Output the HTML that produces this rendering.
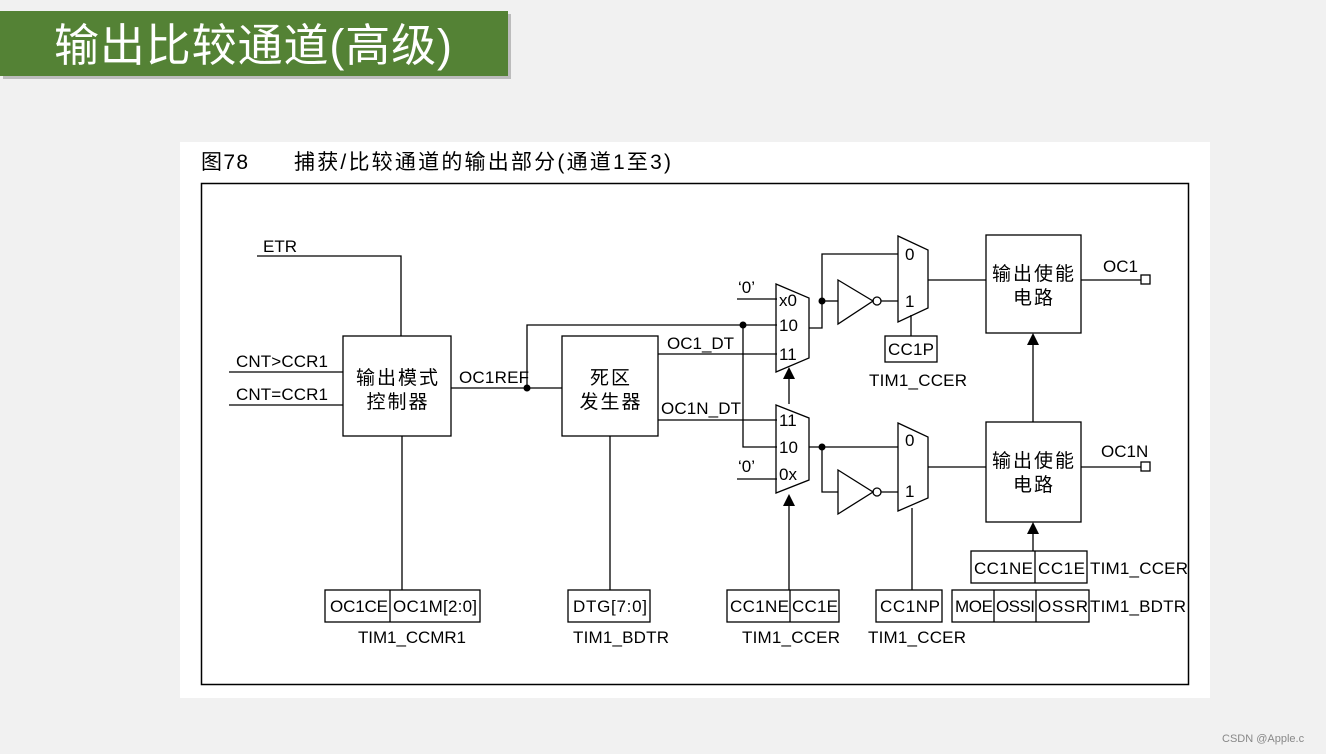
<!DOCTYPE html>
<html><head><meta charset="utf-8"><style>
html,body{margin:0;padding:0;background:#f1f1f1;}
svg{display:block}
</style></head><body>
<svg width="1326" height="754" viewBox="0 0 1326 754" xmlns="http://www.w3.org/2000/svg" font-family="'Liberation Sans','Noto Sans CJK SC',sans-serif">
<rect x="0" y="0" width="1326" height="754" fill="#f1f1f1"/>
<rect x="3" y="14" width="508" height="65" fill="#9a9a9a" opacity="0.6"/>
<rect x="0" y="11" width="508" height="65" fill="#548235"/>
<text x="54" y="61" font-size="45" fill="#fff" textLength="398">输出比较通道(高级)</text>
<rect x="180" y="142" width="1030" height="556" fill="#fff"/>
<text x="201" y="169" font-size="21" fill="#000" textLength="47">图78</text>
<text x="294" y="169" font-size="21" fill="#000" textLength="377">捕获/比较通道的输出部分(通道1至3)</text>
<rect x="201.5" y="183.5" width="987" height="501" fill="none" stroke="#000" stroke-width="1.5"/>
<g stroke="#000" stroke-width="1.3" fill="none">
<polyline points="257,256 401,256 401,336"/>
<line x1="229" y1="372" x2="343" y2="372"/>
<line x1="229" y1="405" x2="343" y2="405"/>
<rect x="343" y="336" width="108" height="100"/>
<line x1="451" y1="388" x2="562" y2="388"/>
<polyline points="527,388 527,325 777,325"/>
<rect x="562" y="336" width="96" height="100"/>
<line x1="658" y1="354" x2="777" y2="354"/>
<line x1="658" y1="420" x2="777" y2="420"/>
<polyline points="743,325 743,447 777,447"/>
<line x1="737" y1="299" x2="777" y2="299"/>
<line x1="737" y1="479" x2="777" y2="479"/>
<polygon points="776,284 809,298 809,358 776,372"/>
<polygon points="776,405 809,418 809,480 776,493"/>
<line x1="789" y1="404" x2="789" y2="378"/>
<line x1="789" y1="590" x2="789" y2="505"/>
<polyline points="809,328 822,328 822,254 898,254"/>
<line x1="822" y1="301" x2="838" y2="301"/>
<polygon points="838,280 873,301 838,324"/>
<circle cx="877" cy="301" r="4"/>
<line x1="881" y1="301" x2="898" y2="301"/>
<polygon points="898,236 928,250 928,308 898,322"/>
<line x1="928" y1="280" x2="986" y2="280"/>
<rect x="885" y="336" width="52" height="26"/>
<line x1="911" y1="336" x2="911" y2="315"/>
<rect x="986" y="235" width="95" height="98"/>
<line x1="1081" y1="280" x2="1141" y2="280"/>
<rect x="1141" y="275" width="9" height="9"/>
<line x1="809" y1="447" x2="898" y2="447"/>
<polyline points="822,447 822,492 838,492"/>
<polygon points="838,470 873,492 838,514"/>
<circle cx="877" cy="492" r="4"/>
<line x1="881" y1="492" x2="898" y2="492"/>
<polygon points="898,423 928,437 928,498 898,511"/>
<line x1="928" y1="467" x2="986" y2="467"/>
<rect x="986" y="422" width="95" height="100"/>
<line x1="1081" y1="467" x2="1141" y2="467"/>
<rect x="1141" y="462" width="9" height="9"/>
<line x1="1033" y1="422" x2="1033" y2="345"/>
<line x1="1033" y1="551" x2="1033" y2="534"/>
<rect x="971" y="551" width="116" height="32"/>
<line x1="1035" y1="551" x2="1035" y2="583"/>
<rect x="952" y="590" width="137" height="32"/>
<line x1="994" y1="590" x2="994" y2="622"/>
<line x1="1036" y1="590" x2="1036" y2="622"/>
<rect x="876" y="590" width="66" height="32"/>
<line x1="912" y1="590" x2="912" y2="508"/>
<rect x="727" y="590" width="112" height="32"/>
<line x1="790" y1="590" x2="790" y2="622"/>
<rect x="568" y="590" width="82" height="32"/>
<line x1="610" y1="590" x2="610" y2="436"/>
<rect x="325" y="590" width="155" height="32"/>
<line x1="390" y1="590" x2="390" y2="622"/>
<line x1="402" y1="590" x2="402" y2="436"/>
</g>
<g fill="#000">
<circle cx="527" cy="388" r="3.5"/>
<circle cx="743" cy="325" r="3.5"/>
<circle cx="822" cy="301" r="3.5"/>
<circle cx="822" cy="447" r="3.5"/>
<polygon points="789,367 783,379 795,379"/>
<polygon points="789,494 783,506 795,506"/>
<polygon points="1033,333 1027,345 1039,345"/>
<polygon points="1033,522 1027,534 1039,534"/>
</g>
<g font-size="17" fill="#000">
<text x="263" y="252">ETR</text>
<text x="236" y="367" textLength="92">CNT&gt;CCR1</text>
<text x="236" y="400" textLength="92">CNT=CCR1</text>
<text x="459" y="383" textLength="70">OC1REF</text>
<text x="667" y="349">OC1_DT</text>
<text x="661" y="414" textLength="80">OC1N_DT</text>
<text x="738" y="293">‘0’</text>
<text x="738" y="472">‘0’</text>
<text x="779" y="306">x0</text>
<text x="779" y="331">10</text>
<text x="779" y="360">11</text>
<text x="779" y="426">11</text>
<text x="779" y="453">10</text>
<text x="779" y="480">0x</text>
<text x="905" y="260">0</text>
<text x="905" y="307">1</text>
<text x="905" y="446">0</text>
<text x="905" y="497">1</text>
<text x="888" y="355" textLength="46">CC1P</text>
<text x="869" y="386" textLength="98">TIM1_CCER</text>
<text x="1103" y="272">OC1</text>
<text x="1101" y="457">OC1N</text>
<text x="974" y="574" textLength="59">CC1NE</text>
<text x="1038" y="574" textLength="47">CC1E</text>
<text x="1090" y="574" textLength="98">TIM1_CCER</text>
<text x="955" y="612" textLength="38">MOE</text>
<text x="996" y="612" textLength="39">OSSI</text>
<text x="1038" y="612" textLength="50">OSSR</text>
<text x="1090" y="612" textLength="96">TIM1_BDTR</text>
<text x="880" y="612" textLength="60">CC1NP</text>
<text x="868" y="643" textLength="98">TIM1_CCER</text>
<text x="730" y="612" textLength="59">CC1NE</text>
<text x="792" y="612" textLength="46">CC1E</text>
<text x="742" y="643" textLength="98">TIM1_CCER</text>
<text x="573" y="612" textLength="74">DTG[7:0]</text>
<text x="573" y="643" textLength="96">TIM1_BDTR</text>
<text x="330" y="612" textLength="58">OC1CE</text>
<text x="393" y="612" textLength="84">OC1M[2:0]</text>
<text x="358" y="643" textLength="108">TIM1_CCMR1</text>
</g>
<g font-size="19" fill="#000" text-anchor="middle" letter-spacing="2">
<text x="398" y="384">输出模式</text>
<text x="398" y="408">控制器</text>
<text x="611" y="384">死区</text>
<text x="611" y="408">发生器</text>
<text x="1034" y="280">输出使能</text>
<text x="1034" y="304">电路</text>
<text x="1034" y="467">输出使能</text>
<text x="1034" y="491">电路</text>
</g>
<text x="1222" y="742" font-size="11" fill="#888">CSDN @Apple.c</text>
</svg>
</body></html>
